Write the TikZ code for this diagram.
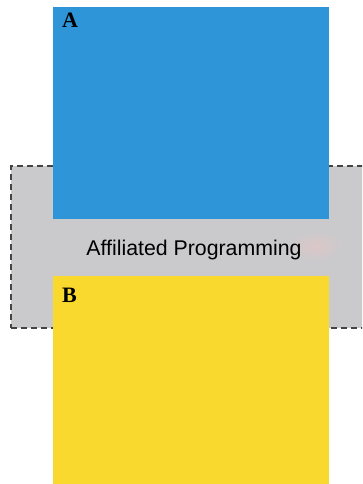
\documentclass[tikz,border=0pt]{standalone}
\usepackage{fontspec}
\setmainfont{Liberation Serif}
\setsansfont{Liberation Sans}
\definecolor{panelblue}{HTML}{2E96D8}
\definecolor{panelyellow}{HTML}{F9D92E}
\definecolor{bandgrey}{HTML}{CACACC}
\definecolor{dashgrey}{HTML}{444444}
\begin{document}
\begin{tikzpicture}[x=1pt,y=-1pt,
  panel/.style={draw=none,inner sep=0pt,outer sep=0pt,anchor=north west},
  tag/.style={anchor=north west,inner sep=0pt,font=\fontsize{22}{22}\selectfont\bfseries},
  band/.style={fill=bandgrey,draw=dashgrey,line width=1.2pt,dash pattern=on 6pt off 4pt}]
  \useasboundingbox (0,0) rectangle (362,484);
  \clip (0,0) rectangle (362,484);
  % grey band behind the two panels
  \node[panel,band,minimum width=370pt,minimum height=162pt] (band) at (11,166) {};
  % soft glow on the band
  \shade[inner color=pink!35!bandgrey,outer color=bandgrey] (316,246) ellipse (26 and 15);
  % top and bottom panels
  \node[panel,fill=panelblue,minimum width=276pt,minimum height=212pt] (pa) at (53,7) {};
  \node[panel,fill=panelyellow,minimum width=276pt,minimum height=210pt] (pb) at (53,276) {};
  \node[tag] (la) at ([xshift=9pt,yshift=-6pt]pa.north west) {A};
  \node[tag] (lb) at ([xshift=9pt,yshift=-12pt]pb.north west) {B};
  \node[font=\sffamily\fontsize{21.3}{21.3}\selectfont,inner sep=0pt,anchor=base] (cap) at (194,255) {Affiliated Programming};
\end{tikzpicture}
\end{document}
